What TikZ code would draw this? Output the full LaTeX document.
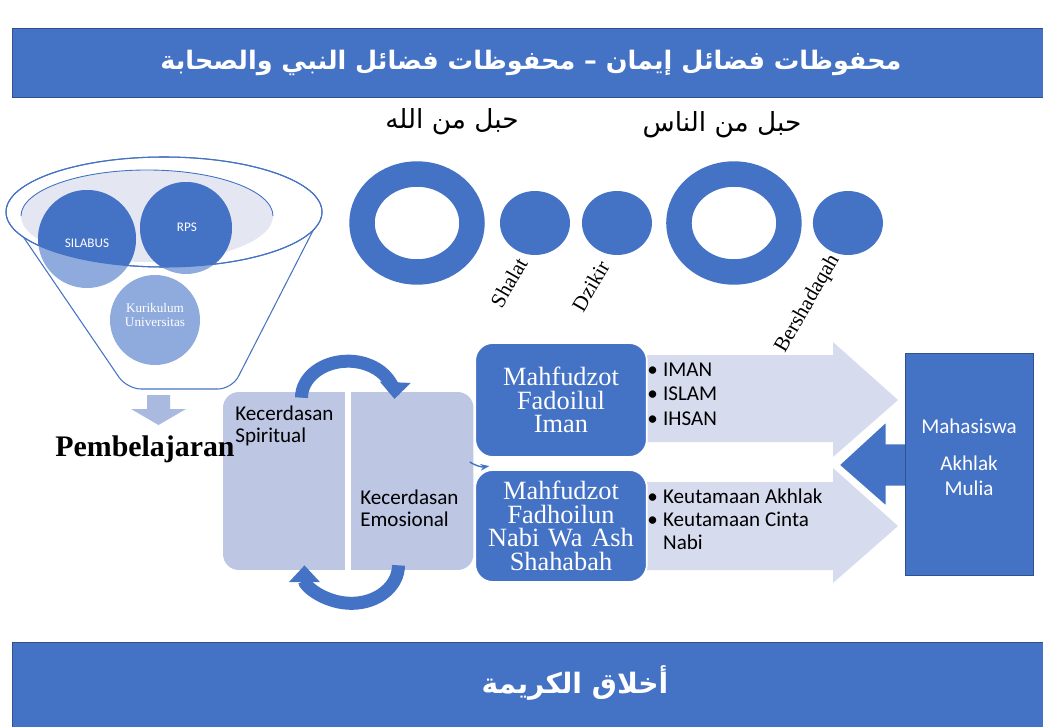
\documentclass[tikz,border=0pt]{standalone}
\usepackage{fontspec}
\setmainfont{Carlito}
\newfontfamily\serif{Liberation Serif}
\newfontfamily\arabicfont[Script=Arabic]{DejaVu Sans}
\usetikzlibrary{shapes.geometric,arrows.meta,positioning}
\TeXXeTstate=1

\definecolor{accent}{HTML}{4472C4}
\definecolor{accentdark}{HTML}{2F528F}
\definecolor{lavender}{HTML}{BDC7E4}
\definecolor{palearrow}{HTML}{D6DCEE}
\definecolor{softblue}{HTML}{8FAADC}
\definecolor{mist}{HTML}{E4E7F2}
\definecolor{dropblue}{HTML}{AAB9DF}

\begin{document}
\begin{tikzpicture}[x=0.02cm, y=-0.02cm, node distance=1cm, auto]
        % Define block styles
        \tikzstyle{bar} = [rectangle, draw=accentdark, fill=accent, text=white, minimum width=20.76cm, inner sep=0pt, font=\arabicfont\bfseries\fontsize{14.5}{18}\selectfont]
        \tikzstyle{ring} = [ellipse, draw=accent, line width=14.5pt, minimum width=2.2cm, minimum height=1.96cm, inner sep=0pt]
        \tikzstyle{dot} = [ellipse, fill=accent, minimum width=1.4cm, minimum height=1.28cm, inner sep=0pt]
        \tikzstyle{rope} = [font=\serif\fontsize{12}{14}\selectfont, rotate=60, anchor=east, inner sep=1pt]
        \tikzstyle{kbox} = [rectangle, fill=lavender, rounded corners=9pt, minimum width=2.44cm, minimum height=3.56cm]
        \tikzstyle{mbox} = [rectangle, draw=white, line width=1pt, fill=accent, rounded corners=10pt, text=white, text width=3.2cm, align=center, minimum width=3.36cm, font=\serif\fontsize{15}{13.5}\selectfont]
        \tikzstyle{note} = [font=\fontsize{12}{14}\selectfont, align=left, inner sep=0pt]
        \tikzstyle{turn} = [draw=accent, line width=7.4pt, -{Triangle[width=17pt, length=9.5pt]}]
        \tikzstyle{pale} = [fill=palearrow]

        \useasboundingbox (0,0) rectangle (1043,726);

        % Title and footer bars
        \node [bar, minimum height=1.38cm] (topbar) at (531,62.5) {\beginR محفوظات فضائل إيمان – محفوظات فضائل النبي والصحابة\endR};
        \node [bar, minimum height=1.74cm] (footbar) at (531,686) {};
        \node [text=white, font=\arabicfont\bfseries\fontsize{16}{18}\selectfont] (footer) at (575,683) {\beginR أخلاق الكريمة\endR};

        % Funnel
        \filldraw [draw=accent, fill=white, line width=0.6pt, rounded corners=8pt] (7,213) -- (127,389) -- (232,389) -- (322,213);
        \filldraw [draw=accent, fill=white, line width=0.6pt] (164,212) ellipse [x radius=158, y radius=55];
        \fill [mist] (147,216) ellipse [x radius=126, y radius=46];
        \draw [accent, line width=0.5pt] (21,216) arc [start angle=180, end angle=360, x radius=126, y radius=46];
        \fill [softblue] (87,239) circle [radius=49];
        \fill [softblue] (186,228) circle [radius=46];
        \fill [softblue] (155,320) circle [radius=45];
        \begin{scope}
          \clip (164,212) ellipse [x radius=158, y radius=55];
          \fill [accent] (87,239) circle [radius=49];
          \fill [accent] (186,228) circle [radius=46];
        \end{scope}
        \draw [accent, line width=0.6pt] (164,212) ellipse [x radius=158, y radius=55];
        \node [text=white, font=\fontsize{7.5}{9}\selectfont] (silabus) at (87,243) {SILABUS};
        \node [text=white, font=\fontsize{7.5}{9}\selectfont] (rps) at (187,227) {RPS};
        \node [text=white, align=center, font=\serif\fontsize{7.5}{8.5}\selectfont] (kurikulum) at (155,315) {Kurikulum\\Universitas};
        \fill [dropblue] (147,395) -- (170,395) -- (170,409) -- (186,409) -- (158.5,425) -- (131,409) -- (147,409) -- cycle;

        % Place nodes
        \node [font=\arabicfont\fontsize{15}{18}\selectfont] (hablallah) at (452,122) {\beginR حبل من الله\endR};
        \node [font=\arabicfont\fontsize{15}{18}\selectfont] (hablannas) at (722,125) {\beginR حبل من الناس\endR};

        \node [ring] (ring1) at (417,223) {};
        \node [dot, right of=ring1, node distance=2.36cm] (dot1) {};
        \node [dot, right of=dot1, node distance=1.64cm] (dot2) {};
        \node [ring, right of=dot2, node distance=2.34cm] (ring2) {};
        \node [dot, right of=ring2, node distance=2.28cm] (dot3) {};

        \node [rope] (shalat) at (523,258) {Shalat};
        \node [rope] (dzikir) at (605,261) {Dzikir};
        \node [rope] (sedekah) at (836,255) {Bershadaqah};

        % Two intelligences
        \node [kbox] (kspir) at (284,481) {};
        \fill [lavender] (kspir.north) rectangle (kspir.south east);
        \node [kbox, right of=kspir, node distance=2.57cm] (kemo) {};
        \fill [lavender] (kemo.north west) rectangle (kemo.south);
        \node [note, anchor=north west, font=\fontsize{12}{12.5}\selectfont] (spirtext) at (235,406) {Kecerdasan\\Spiritual};
        \node [note, anchor=north west, font=\fontsize{12}{12.5}\selectfont] (emotext) at (360,490) {Kecerdasan\\Emosional};
        \draw [turn] ([shift={(17.5,6)}]kspir.north) arc [start angle=180, end angle=362, x radius=46.5, y radius=36.5];
        \draw [turn] ([shift={(-14,-5)}]kemo.south) arc [start angle=0, end angle=180, x radius=47, y radius=38];
        \node [font=\serif\bfseries\fontsize{17}{20}\selectfont] (learn) at (145,449) {Pembelajaran};

        % Block arrows towards the student
        \fill [pale] (630,355) -- (833,355) -- (833,342) -- (898,400) -- (833,457) -- (833,442) -- (630,442) -- cycle;
        \fill [pale] (630,482) -- (833,482) -- (833,468) -- (898,526) -- (833,583) -- (833,570) -- (630,570) -- cycle;
        \filldraw [fill=accent, draw=white, line width=1.5pt] (910,443) -- (887,443) -- (887,420) -- (838,465) -- (887,508) -- (887,487) -- (910,487);

        \node [rectangle, draw=accentdark, fill=accent, minimum width=2.56cm, minimum height=4.44cm] (mhs) at (969,464) {};
        \node [note, text=white, align=center] (mhstext) at (969,457) {Mahasiswa\\[7.5pt]Akhlak\\Mulia};

        \node [mbox, minimum height=2.28cm] (mfi) at (561,400) {Mahfudzot\\Fadoilul\\Iman};
        \node [mbox, minimum height=2.24cm, below of=mfi, node distance=2.52cm] (mfn) {Mahfudzot\\Fadhoilun\\Nabi Wa Ash\\Shahabah};

        \node [note, anchor=west] (imanlist) at (647,394) {\textbullet\hspace{3pt}IMAN\\\textbullet\hspace{3pt}ISLAM\\\textbullet\hspace{3pt}IHSAN};
        \node [note, anchor=west, font=\fontsize{12}{13}\selectfont] (nabilist) at (647,519) {\textbullet\hspace{3pt}Keutamaan Akhlak\\\textbullet\hspace{3pt}Keutamaan Cinta\\\phantom{\textbullet}\hspace{3pt}Nabi};

        \draw [accent, line width=0.8pt, -{Stealth[length=5pt]}] ([shift={(-4,-19)}]kemo.east) to [bend right=20] ([shift={(15,-3)}]mfn.north west);
    \end{tikzpicture}
\end{document}
